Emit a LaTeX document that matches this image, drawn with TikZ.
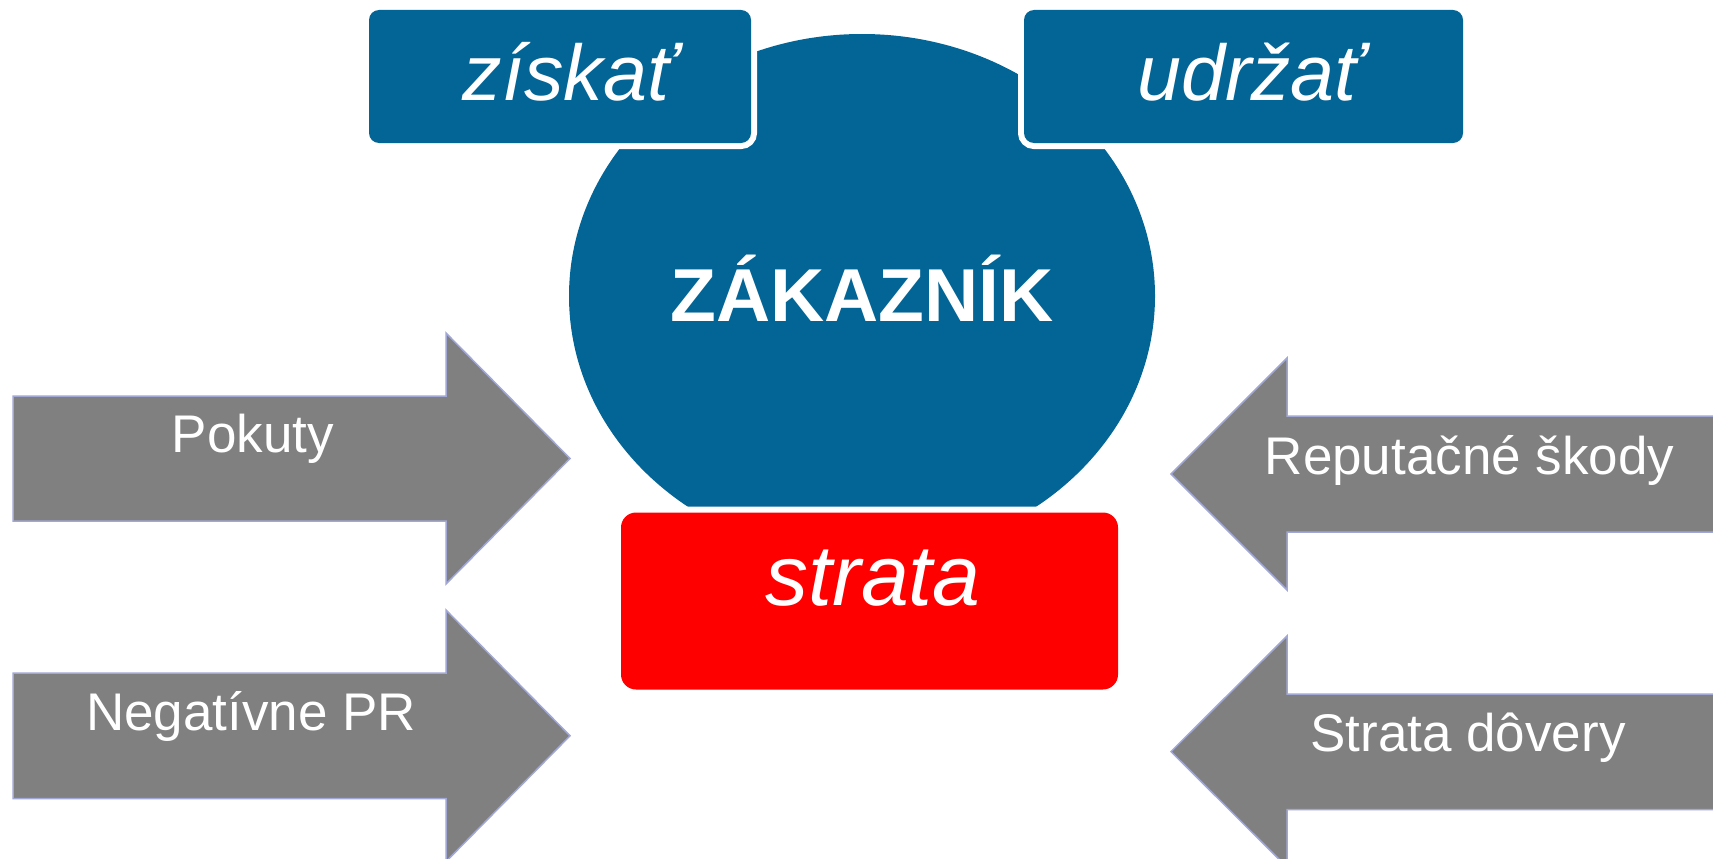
\documentclass[tikz,border=0pt]{standalone}
\usepackage{fontspec}
\setmainfont{Liberation Sans}
\definecolor{zblue}{RGB}{3,101,150}
\definecolor{zred}{RGB}{255,0,0}
\definecolor{agray}{RGB}{128,128,128}
\definecolor{aedge}{RGB}{162,168,214}
\begin{document}
\begin{tikzpicture}[x=1pt,y=-1pt,
  bluebox/.style={fill=zblue, rounded corners=10pt, inner sep=0pt,
    preaction={draw=white, line width=12pt, rounded corners=10pt}},
  redbox/.style={fill=zred, rounded corners=15pt, inner sep=0pt,
    preaction={draw=white, line width=12pt, rounded corners=15pt}},
  grayarrow/.style={fill=agray, draw=aedge, line width=1.5pt, line join=miter},
  boxtext/.style={anchor=base, text=white, inner sep=0pt, font=\fontsize{79}{90}\selectfont\itshape},
  arrowtext/.style={anchor=base, text=white, inner sep=0pt, font=\fontsize{53}{62}\selectfont},
  hubtext/.style={anchor=base, text=white, inner sep=0pt, font=\fontsize{75}{90}\selectfont\bfseries}]
\useasboundingbox (0,0) rectangle (1713,859);
\clip (0,0) rectangle (1713,859);

% central customer circle
\fill[zblue] (862,296) ellipse [x radius=293pt, y radius=262pt];
\node[hubtext] (hub) at (862,321) {ZÁKAZNÍK};

% top boxes
\node[bluebox, minimum width=382pt, minimum height=133pt] (ziskat) at (560,76.5) {};
\node[boxtext] (ziskatT) at (569,100) {získať};
\node[bluebox, minimum width=439pt, minimum height=133pt] (udrzat) at (1243.5,76.5) {};
\node[boxtext] (udrzatT) at (1250,100) {udržať};

% bottom box
\node[redbox, minimum width=497pt, minimum height=177pt] (strata) at (869.5,601) {};
\node[boxtext, font=\fontsize{86}{100}\selectfont\itshape] (strataT) at (873,605.5) {strata};

% left arrows
\draw[grayarrow] (13,396) -- (446,396) -- (446,333) -- (570,458.5) -- (446,584) -- (446,521) -- (13,521) -- cycle;
\node[arrowtext] (pokuty) at (253,452) {Pokuty};
\draw[grayarrow] (13,673) -- (446,673) -- (446,610) -- (570,735.8) -- (446,861.6) -- (446,798.6) -- (13,798.6) -- cycle;
\node[arrowtext] (negpr) at (251,730) {Negatívne PR};

% right arrows
\draw[grayarrow] (1725,416) -- (1287,416) -- (1287,358) -- (1171,474) -- (1287,590) -- (1287,532) -- (1725,532) -- cycle;
\node[arrowtext] (repu) at (1469.5,474) {Reputačné škody};
\draw[grayarrow] (1725,694) -- (1287,694) -- (1287,636) -- (1171,751.6) -- (1287,867.2) -- (1287,809.6) -- (1725,809.6) -- cycle;
\node[arrowtext] (dovera) at (1468,751.6) {Strata dôvery};
\end{tikzpicture}
\end{document}
